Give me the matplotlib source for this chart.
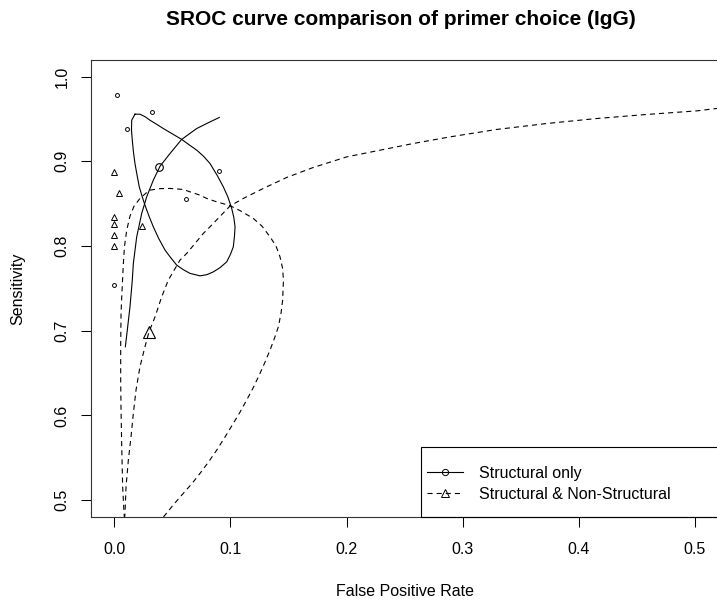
import matplotlib
matplotlib.use("Agg")
import matplotlib.pyplot as plt
from matplotlib.lines import Line2D
from matplotlib.patches import Rectangle

plt.rcParams['font.family'] = ['Liberation Sans', 'DejaVu Sans']

# ---------------- data ----------------
# Study points, group 1 "Structural only" (FPR, sensitivity)
s_fpr = [0.002, 0.0325, 0.0113, 0.0902, 0.0615, 0.0]
s_sens = [0.978, 0.958, 0.938, 0.889, 0.855, 0.754]
s_sum_fpr = [0.0385]
s_sum_sens = [0.8935]

# Study points, group 2 "Structural & Non-Structural"
n_fpr = [0.0, 0.0038, 0.0, 0.0, 0.0, 0.0, 0.0239]
n_sens = [0.888, 0.863, 0.8345, 0.826, 0.813, 0.800, 0.824]
n_sum_fpr = [0.0296]
n_sum_sens = [0.6987]

# SROC curve, group 1 (solid)
sroc1_fpr = [0.0095, 0.0112, 0.0135, 0.0155, 0.0164, 0.0193, 0.0236, 0.0279,
             0.0336, 0.0394, 0.048, 0.058, 0.071, 0.0824, 0.0904]
sroc1_sens = [0.681, 0.7007, 0.7282, 0.7597, 0.7795, 0.8109, 0.8385, 0.8581,
              0.8778, 0.8943, 0.9093, 0.9259, 0.9388, 0.9466, 0.9518]

# Confidence region, group 1 (solid, closed)
ell1_fpr = [0.0178, 0.0150, 0.0148, 0.0155, 0.0165, 0.0178, 0.0196, 0.0215,
            0.0239, 0.0264, 0.0299, 0.0336, 0.0381, 0.0437, 0.0480, 0.0537,
            0.0594, 0.0652, 0.0738, 0.0798, 0.0853, 0.0911, 0.0968, 0.1001,
            0.1025, 0.1035, 0.1040, 0.1029, 0.1011, 0.0979, 0.0939, 0.0885,
            0.0824, 0.0768, 0.0710, 0.0643, 0.0581, 0.0497, 0.0422, 0.0363,
            0.0307, 0.0264, 0.0221, 0.0178]
ell1_sens = [0.9557, 0.9486, 0.9368, 0.9250, 0.9109, 0.8975, 0.8837, 0.8699,
             0.8589, 0.8483, 0.8353, 0.8227, 0.8093, 0.7952, 0.7873, 0.7775,
             0.7721, 0.7677, 0.7648, 0.7662, 0.7695, 0.7745, 0.7813, 0.7904,
             0.7991, 0.8117, 0.8227, 0.8341, 0.8444, 0.8577, 0.8699, 0.8837,
             0.8975, 0.9061, 0.9132, 0.9197, 0.9259, 0.9327, 0.9388, 0.9439,
             0.9486, 0.9528, 0.9557, 0.9557]

# SROC curve, group 2 (dashed)
sroc2_fpr = [0.0088, 0.0092, 0.0101, 0.0121, 0.0144, 0.0164, 0.0187, 0.0221,
             0.0264, 0.0299, 0.0351, 0.0408, 0.0465, 0.0566, 0.0624, 0.0767,
             0.0824, 0.0997, 0.1111, 0.1283, 0.1485, 0.1714, 0.2002, 0.2289,
             0.2575, 0.2891, 0.3294, 0.3724, 0.4155, 0.4586, 0.5016, 0.5191, 0.53]
sroc2_sens = [0.478, 0.4843, 0.5157, 0.5472, 0.5747, 0.6024, 0.6299, 0.6574,
              0.681, 0.6987, 0.7164, 0.74, 0.7597, 0.7834, 0.7913, 0.8149,
              0.8227, 0.8473, 0.8562, 0.868, 0.881, 0.8928, 0.9053, 0.9132,
              0.9211, 0.9289, 0.9377, 0.9447, 0.9506, 0.9554, 0.9596, 0.9625, 0.9635]

# Confidence region, group 2 (dashed, open at the bottom)
ell2_fpr = [0.0088, 0.0084, 0.0072, 0.0064, 0.0058, 0.0055, 0.0055, 0.0058,
            0.0064, 0.0071, 0.0078, 0.0088, 0.0107, 0.0135, 0.0170, 0.0221,
            0.0273, 0.0307, 0.0394, 0.0480, 0.0594, 0.0652, 0.0738, 0.0796,
            0.0882, 0.0997, 0.1091, 0.1197, 0.1272, 0.1341, 0.1393, 0.1427,
            0.1449, 0.1457, 0.1453, 0.1450, 0.1436, 0.1413, 0.1380, 0.1341,
            0.1298, 0.1255, 0.1199, 0.1140, 0.1083, 0.1025, 0.0953, 0.0882,
            0.0811, 0.0738, 0.0669, 0.0594, 0.0514, 0.0437, 0.0415]
ell2_sens = [0.4776, 0.4843, 0.5157, 0.5629, 0.6063, 0.6417, 0.6830, 0.7204,
             0.7400, 0.7597, 0.7795, 0.7999, 0.8188, 0.8353, 0.8471, 0.8562,
             0.8625, 0.8660, 0.8678, 0.8680, 0.8668, 0.8640, 0.8601, 0.8562,
             0.8522, 0.8477, 0.8412, 0.8326, 0.8235, 0.8109, 0.7999, 0.7873,
             0.7739, 0.7597, 0.7479, 0.7361, 0.7208, 0.7046, 0.6913, 0.6771,
             0.6629, 0.6496, 0.6334, 0.6181, 0.6039, 0.5906, 0.5744, 0.5590,
             0.5449, 0.5315, 0.5195, 0.5079, 0.4953, 0.4823, 0.4787]

x_ticks = [0.0, 0.1, 0.2, 0.3, 0.4, 0.5]
y_ticks = [0.5, 0.6, 0.7, 0.8, 0.9, 1.0]
labels = ["Structural only", "Structural & Non-Structural"]

# ---------------- figure ----------------
W, H = 717, 607
fig = plt.figure(figsize=(W / 100, H / 100), dpi=100)
L, R, T, B = 90.5, 719.0, 60.0, 517.0
ax = fig.add_axes([L / W, 1 - B / H, (R - L) / W, (B - T) / H])
ax.set_xlim(-0.0205, 0.5208)
ax.set_ylim(0.48, 1.0197)

lw = 0.8
dash = (0, (4.6, 3.6))

ax.plot(sroc1_fpr, sroc1_sens, color='black', lw=lw, ls='-')
ax.plot(ell1_fpr, ell1_sens, color='black', lw=lw, ls='-')
ax.plot(sroc2_fpr, sroc2_sens, color='black', lw=lw, ls=dash)
ax.plot(ell2_fpr, ell2_sens, color='black', lw=lw, ls=dash)

ax.plot(s_fpr, s_sens, ls='none', marker='o', ms=2.8, mfc='none', mec='black', mew=0.7)
ax.plot(s_sum_fpr, s_sum_sens, ls='none', marker='o', ms=5.5, mfc='none', mec='black', mew=0.8)
ax.plot(n_fpr, n_sens, ls='none', marker='^', ms=3.8, mfc='none', mec='black', mew=0.7)
ax.plot(n_sum_fpr, n_sum_sens, ls='none', marker='^', ms=8, mfc='none', mec='black', mew=0.8)

ax.set_xticks(x_ticks)
ax.set_xticklabels([f"{v:.1f}" for v in x_ticks])
ax.set_yticks(y_ticks)
ax.set_yticklabels([f"{v:.1f}" for v in y_ticks], rotation=90, va='center')
ax.tick_params(axis='both', direction='out', length=7.0, width=0.75,
               labelsize=11.5, colors='black')
ax.tick_params(axis='x', pad=11)
ax.tick_params(axis='y', pad=8)
for side in ['left', 'bottom', 'top']:
    ax.spines[side].set_linewidth(0.8)
    ax.spines[side].set_color('#333333')
ax.spines['right'].set_visible(False)

ax.set_xlabel("False Positive Rate", fontsize=11.5, va='center')
ax.xaxis.set_label_coords((405 - L) / (R - L), 1 - (591 - T) / (B - T))
ax.set_ylabel("Sensitivity", fontsize=11.5, va='center')
ax.yaxis.set_label_coords((18 - L) / (R - L), 0.5)

ax.set_title("SROC curve comparison of primer choice (IgG)", fontsize=15,
             fontweight='bold', x=(401 - L) / (R - L), pad=25)

# legend
handles = [Line2D([], [], color='black', lw=lw, ls='-', marker='o', ms=4.5,
                  mfc='none', mec='black', mew=0.7),
           Line2D([], [], color='black', lw=lw, ls=dash, marker='^', ms=5.5,
                  mfc='none', mec='black', mew=0.7)]
leg = ax.legend(handles, labels, loc='upper left',
                bbox_to_anchor=(421 / W, 1 - 460 / H), bbox_transform=fig.transFigure,
                frameon=False, fontsize=11.5, handlelength=2.3, handletextpad=1.0,
                borderpad=0.35, borderaxespad=0, labelspacing=0.40, numpoints=1)
frame = Rectangle((421 / W, 1 - B / H), (760 - 421) / W, (B - 447) / H,
                  transform=fig.transFigure, fill=False, edgecolor='black', lw=0.8,
                  clip_on=False)
fig.add_artist(frame)

fig.savefig("out.png", dpi=100)
